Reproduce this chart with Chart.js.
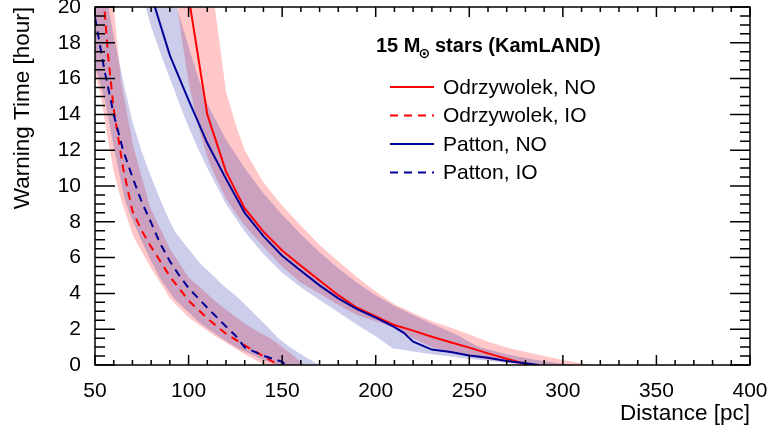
<!DOCTYPE html>
<html>
<head>
<meta charset="utf-8">
<script src="https://cdn.jsdelivr.net/npm/chart.js@4.4.1/dist/chart.umd.min.js"></script>
<style>
  html, body { margin: 0; padding: 0; background: #fff; }
</style>
</head>
<body>
<canvas id="chart" width="769" height="434"></canvas>
<script>
// central curves: distance [pc] -> warning time [hour]
var odrNoDist = [100, 110, 120, 130, 140, 150, 160, 170, 180, 190, 200, 210, 220, 230, 240, 250, 260, 270, 282];
var odrNoTime = [20.6, 14.0, 10.8, 8.75, 7.45, 6.4, 5.55, 4.72, 3.9, 3.2, 2.72, 2.23, 1.92, 1.58, 1.27, 0.97, 0.65, 0.35, 0];

var odrIoDist = [54, 57, 60, 65, 70, 75, 80, 90, 100, 110, 120, 130, 140, 148];
var odrIoTime = [21.3, 17.3, 14.3, 11.0, 8.6, 7.5, 6.6, 4.95, 3.6, 2.6, 1.75, 1.1, 0.48, 0];

var patNoDist = [80, 82, 90, 100, 110, 120, 130, 140, 150, 160, 170, 180, 190, 200, 210, 215, 220, 230, 240, 250, 260, 270, 280, 287];
var patNoTime = [20.8, 20, 17.3, 14.8, 12.4, 10.4, 8.5, 7.2, 6.1, 5.27, 4.45, 3.72, 3.12, 2.65, 2.12, 1.8, 1.3, 0.86, 0.72, 0.53, 0.4, 0.22, 0.1, 0];

var patIoDist = [50, 55, 60, 65, 70, 75, 80, 85, 90, 95, 100, 110, 120, 125, 130, 140, 150, 152];
var patIoTime = [19.4, 16.5, 14.0, 12.0, 10.5, 9.1, 7.95, 6.75, 5.8, 5.0, 4.3, 3.2, 2.15, 1.65, 0.98, 0.52, 0.18, 0];

// uncertainty bands: lower / upper time at each distance
var odrNoBandDist = [94, 96, 100, 105, 110, 114, 120, 125, 130, 140, 150, 160, 170, 180, 190, 200, 210, 220, 230, 240, 250, 260, 270, 278, 290, 300, 310, 316];
var odrNoBandLow  = [20, 18.5, 15.8, 13.4, 11.6, 10.6, 9.3, 8.5, 7.8, 6.6, 5.5, 4.6, 4.0, 3.35, 2.8, 2.45, 2.1, 1.5, 1.0, 0.72, 0.5, 0.3, 0.15, 0, 0, 0, 0, 0];
var odrNoBandHigh = [36, 34.5, 31, 27, 23.2, 20, 15.3, 13.5, 12.0, 10.2, 8.9, 7.8, 6.7, 5.8, 4.9, 4.1, 3.4, 2.9, 2.45, 2.1, 1.7, 1.3, 0.98, 0.78, 0.5, 0.28, 0.1, 0];

var patNoBandDist = [76, 77, 80, 85, 90, 93, 95, 100, 105, 110, 120, 130, 140, 150, 160, 170, 180, 190, 200, 209, 220, 230, 240, 245, 250, 255, 270, 282, 290, 305];
var patNoBandLow  = [20.3, 20, 18.9, 17.4, 16.0, 15.2, 14.6, 13.3, 12.1, 11.0, 9.0, 7.45, 6.2, 5.15, 4.35, 3.63, 2.95, 2.25, 1.6, 0.93, 0.75, 0.6, 0.47, 0.41, 0.35, 0.3, 0.12, 0, 0, 0];
var patNoBandHigh = [28, 27.3, 25.5, 23, 21.3, 20.3, 19.5, 17.8, 16.1, 14.6, 12.6, 11.0, 9.6, 8.4, 7.3, 6.3, 5.4, 4.6, 3.9, 3.35, 2.8, 2.3, 1.85, 1.6, 1.3, 1.0, 0.6, 0.35, 0.22, 0];

var odrIoBandDist = [47, 50, 53, 56, 60, 64, 70.5, 79.5, 90, 100, 114, 118, 130, 139, 142, 145, 155, 162];
var odrIoBandLow  = [17.8, 16.3, 15.1, 13.2, 10.8, 9.2, 7.17, 5.49, 3.75, 2.65, 1.62, 1.38, 0.6, 0.1, 0, 0, 0, 0];
var odrIoBandHigh = [30, 27, 24.5, 22.5, 20, 15.8, 12.2, 8.8, 6.5, 4.9, 3.6, 3.25, 2.3, 1.75, 1.6, 1.4, 0.6, 0];

var patIoBandDist = [48, 50, 52, 55.3, 60, 62, 66, 70, 75, 80, 85, 90, 93, 106, 119, 126, 130, 142, 148, 154, 163, 170];
var patIoBandLow  = [17.3, 16.6, 16.0, 14.8, 12.2, 11.2, 9.2, 8.1, 6.9, 5.8, 4.8, 4.05, 3.63, 2.35, 1.4, 0.95, 0.75, 0.2, 0, 0, 0, 0];
var patIoBandHigh = [26, 24.5, 23.2, 21.0, 18.4, 17.4, 15.4, 13.6, 11.9, 10.5, 9.2, 8.0, 7.4, 5.7, 4.4, 3.8, 3.4, 2.15, 1.5, 1.0, 0.4, 0];

var xTicks = [50, 100, 150, 200, 250, 300, 350, 400];
var yTicks = [0, 2, 4, 6, 8, 10, 12, 14, 16, 18, 20];

var titleMain = '15 M';
var titleSun = '\u2299';
var titleRest = 'stars (KamLAND)';

var RED = '#ff0000';
var BLUE = '#000099';
var RED_BAND = 'rgba(255,0,0,0.22)';
var BLUE_BAND = 'rgba(0,0,153,0.2)';
var FONT = '"Liberation Sans", Arial, Helvetica, sans-serif';

function pts(d, t) {
  return d.map(function(v, i) { return {x: v, y: t[i]}; });
}

function line(label, d, t, color, dash, order) {
  return {
    label: label, data: pts(d, t), borderColor: color, borderWidth: 2,
    borderDash: dash, pointRadius: 0, fill: false, order: order, isCurve: true
  };
}

function bandEdge(d, t, color, fill, order) {
  return {
    label: '', data: pts(d, t), borderWidth: 0, borderColor: 'rgba(0,0,0,0)',
    backgroundColor: color, pointRadius: 0, fill: fill, order: order
  };
}

var datasets = [
  line('Odrzywolek, NO', odrNoDist, odrNoTime, RED, [], 1),
  line('Odrzywolek, IO', odrIoDist, odrIoTime, RED, [8, 6], 1),
  line('Patton, NO', patNoDist, patNoTime, BLUE, [], 0),
  line('Patton, IO', patIoDist, patIoTime, BLUE, [8, 6], 0),
  bandEdge(odrNoBandDist, odrNoBandHigh, RED_BAND, '+1', 3),
  bandEdge(odrNoBandDist, odrNoBandLow, RED_BAND, false, 3),
  bandEdge(odrIoBandDist, odrIoBandHigh, RED_BAND, '+1', 3),
  bandEdge(odrIoBandDist, odrIoBandLow, RED_BAND, false, 3),
  bandEdge(patNoBandDist, patNoBandHigh, BLUE_BAND, '+1', 2),
  bandEdge(patNoBandDist, patNoBandLow, BLUE_BAND, false, 2),
  bandEdge(patIoBandDist, patIoBandHigh, BLUE_BAND, '+1', 2),
  bandEdge(patIoBandDist, patIoBandLow, BLUE_BAND, false, 2)
];

// ROOT-like frame with inward ticks on all four sides
var frameTicks = {
  id: 'frameTicks',
  afterDatasetsDraw: function(chart) {
    var ctx = chart.ctx, a = chart.chartArea, x = chart.scales.x, y = chart.scales.y;
    ctx.save();
    ctx.strokeStyle = '#000';
    ctx.lineWidth = 1.5;
    ctx.beginPath();
    var v, p, len;
    for (v = xTicks[0]; v <= xTicks[xTicks.length - 1]; v += 10) {
      p = x.getPixelForValue(v);
      len = (xTicks.indexOf(v) >= 0) ? 10 : 5;
      ctx.moveTo(p, a.bottom); ctx.lineTo(p, a.bottom - len);
      ctx.moveTo(p, a.top); ctx.lineTo(p, a.top + len);
    }
    for (v = yTicks[0]; v <= yTicks[yTicks.length - 1]; v += 0.5) {
      p = y.getPixelForValue(v);
      len = (yTicks.indexOf(v) >= 0) ? 20 : 10;
      ctx.moveTo(a.left, p); ctx.lineTo(a.left + len, p);
      ctx.moveTo(a.right, p); ctx.lineTo(a.right - len, p);
    }
    ctx.stroke();
    ctx.strokeRect(a.left, a.top, a.right - a.left, a.bottom - a.top);
    ctx.restore();
  }
};

var legendBox = {
  id: 'legendBox',
  afterDraw: function(chart) {
    var ctx = chart.ctx;
    ctx.save();
    ctx.fillStyle = '#000';
    ctx.textAlign = 'left';
    ctx.textBaseline = 'alphabetic';
    ctx.font = 'bold 20px ' + FONT;
    ctx.fillText(titleMain, 376, 52);
    var w = ctx.measureText(titleMain).width;
    ctx.font = 'bold 14px "DejaVu Sans", sans-serif';
    ctx.fillText(titleSun, 376 + w - 2, 58);
    ctx.font = 'bold 20px ' + FONT;
    ctx.fillText(titleRest, 435, 52);

    ctx.font = '21px ' + FONT;
    ctx.textBaseline = 'middle';
    var row = 0;
    chart.data.datasets.forEach(function(ds) {
      if (!ds.isCurve) return;
      var yy = 87 + row * 28.5;
      ctx.strokeStyle = ds.borderColor;
      ctx.lineWidth = 2;
      ctx.setLineDash(ds.borderDash);
      ctx.beginPath();
      ctx.moveTo(390, yy); ctx.lineTo(434, yy);
      ctx.stroke();
      ctx.setLineDash([]);
      ctx.fillText(ds.label, 443, yy + 1);
      row++;
    });
    ctx.restore();
  }
};

// keep the plot frame exactly where the reference has it
function noScalePadding(s) {
  s.paddingTop = 0; s.paddingBottom = 0; s.paddingLeft = 0; s.paddingRight = 0;
}

Chart.defaults.color = '#000';
Chart.defaults.font.family = FONT;

new Chart(document.getElementById('chart'), {
  type: 'line',
  data: { datasets: datasets },
  plugins: [frameTicks, legendBox],
  options: {
    responsive: false,
    animation: false,
    events: [],
    layout: { autoPadding: false, padding: { left: 0, top: 7, right: 19, bottom: 0 } },
    plugins: { legend: { display: false }, tooltip: { enabled: false } },
    scales: {
      x: {
        type: 'linear', min: 50, max: 400,
        afterFit: function(s) { s.height = 69; noScalePadding(s); },
        afterBuildTicks: function(s) { s.ticks = xTicks.map(function(v) { return {value: v}; }); },
        grid: { display: false },
        border: { display: false },
        ticks: { font: { size: 21 }, padding: 6, maxRotation: 0, autoSkip: false },
        title: { display: true, text: 'Distance [pc]', align: 'end', font: { size: 22.5 }, padding: { top: 0, bottom: 7 } }
      },
      y: {
        type: 'linear', min: 0, max: 20,
        afterFit: function(s) { s.width = 95; noScalePadding(s); },
        afterBuildTicks: function(s) { s.ticks = yTicks.map(function(v) { return {value: v}; }); },
        grid: { display: false },
        border: { display: false },
        ticks: { font: { size: 21 }, padding: 6, autoSkip: false },
        title: { display: true, text: 'Warning Time [hour]', align: 'end', font: { size: 22.5 }, padding: { top: 9, bottom: 0 } }
      }
    }
  }
});
</script>
</body>
</html>
